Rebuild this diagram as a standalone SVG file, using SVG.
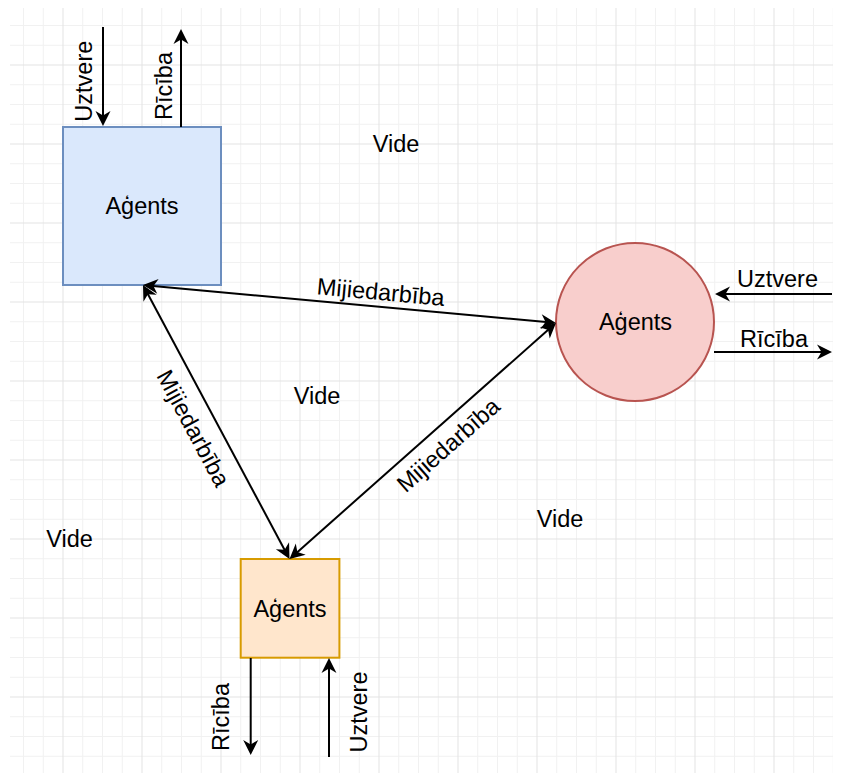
<svg xmlns="http://www.w3.org/2000/svg" width="842" height="773" viewBox="0 0 842 773">
<style>
.minor{stroke:#f1f1f1;stroke-width:1;fill:none}
.major{stroke:#e3e3e3;stroke-width:1;fill:none}
text{font-family:"Liberation Sans",Arial,Helvetica,sans-serif;font-size:23.5px;fill:#000;text-anchor:middle}
.c{dominant-baseline:central}
.edge{stroke:#000;stroke-width:2;fill:none}
</style>
<defs>
<marker id="arr" markerUnits="userSpaceOnUse" viewBox="0 0 17 16" markerWidth="17" markerHeight="16" refX="6" refY="8" orient="auto-start-reverse" overflow="visible">
<path d="M16,8 L1,0.5 L5.5,8 L1,15.5 Z" fill="#000"/>
</marker>
<clipPath id="gc"><rect x="10" y="8" width="823" height="765"/></clipPath>
</defs>
<rect width="842" height="773" fill="#fff"/>
<g id="grid" clip-path="url(#gc)">
<path class="minor" d="M23.5 0V773M43.25 0V773M82.75 0V773M102.5 0V773M122.25 0V773M161.75 0V773M181.5 0V773M201.25 0V773M240.75 0V773M260.5 0V773M280.25 0V773M319.75 0V773M339.5 0V773M359.25 0V773M398.75 0V773M418.5 0V773M438.25 0V773M477.75 0V773M497.5 0V773M517.25 0V773M556.75 0V773M576.5 0V773M596.25 0V773M635.75 0V773M655.5 0V773M675.25 0V773M714.75 0V773M734.5 0V773M754.25 0V773M793.75 0V773M813.5 0V773M833.25 0V773
M0 5.75H842M0 25.5H842M0 45.25H842M0 84.75H842M0 104.5H842M0 124.25H842M0 163.75H842M0 183.5H842M0 203.25H842M0 242.75H842M0 262.5H842M0 282.25H842M0 321.75H842M0 341.5H842M0 361.25H842M0 400.75H842M0 420.5H842M0 440.25H842M0 479.75H842M0 499.5H842M0 519.25H842M0 558.75H842M0 578.5H842M0 598.25H842M0 637.75H842M0 657.5H842M0 677.25H842M0 716.75H842M0 736.5H842M0 756.25H842"/>
<path class="major" d="M63 0V773M142 0V773M221 0V773M300 0V773M379 0V773M458 0V773M537 0V773M616 0V773M695 0V773M774 0V773
M0 65H842M0 144H842M0 223H842M0 302H842M0 381H842M0 460H842M0 539H842M0 618H842M0 697H842"/>
</g>
<g id="agent-blue">
<rect x="63" y="127" width="158" height="158" fill="#dae8fc" stroke="#6c8ebf" stroke-width="2"/>
<text x="142" y="214">Aģents</text>
</g>
<g id="agent-red">
<circle cx="635" cy="322" r="79" fill="#f8cecc" stroke="#b85450" stroke-width="2"/>
<text x="635.5" y="330">Aģents</text>
</g>
<g id="agent-orange">
<rect x="240.7" y="559" width="98.7" height="98.7" fill="#ffe6cc" stroke="#d79b00" stroke-width="2"/>
<text x="290" y="616.5">Aģents</text>
</g>
<g id="connectors">
<path class="edge" d="M103 27V116" marker-end="url(#arr)"/>
<path class="edge" d="M181 127V39" marker-end="url(#arr)"/>
<path class="edge" d="M832 294H725" marker-end="url(#arr)"/>
<path class="edge" d="M714 352H822" marker-end="url(#arr)"/>
<path class="edge" d="M250.7 658V745" marker-end="url(#arr)"/>
<path class="edge" d="M329 757V668" marker-end="url(#arr)"/>
<path class="edge" d="M152.96 285.92L546.04 322.08" marker-start="url(#arr)" marker-end="url(#arr)"/>
<path class="edge" d="M147.7 293.8L284.8 550.2" marker-start="url(#arr)" marker-end="url(#arr)"/>
<path class="edge" d="M297 552.4L548.5 329.6" marker-start="url(#arr)" marker-end="url(#arr)"/>
</g>
<g id="labels">
<text transform="translate(91.7,81.2) rotate(-90)">Uztvere</text>
<text transform="translate(171.5,86) rotate(-90)">Rīcība</text>
<text x="777.5" y="287">Uztvere</text>
<text x="774" y="347">Rīcība</text>
<text transform="translate(229.3,717) rotate(-90)">Rīcība</text>
<text transform="translate(366.7,712) rotate(-90)">Uztvere</text>
<text class="c" transform="translate(380.8,292.1) rotate(5.27)">Mijiedarbība</text>
<text class="c" transform="translate(193.3,428.3) rotate(61.9)">Mijiedarbība</text>
<text class="c" transform="translate(448.3,445) rotate(-41.5)">Mijiedarbība</text>
<text x="396" y="152">Vide</text>
<text x="317" y="404">Vide</text>
<text x="69.5" y="547">Vide</text>
<text x="560" y="527">Vide</text>
</g>
</svg>
